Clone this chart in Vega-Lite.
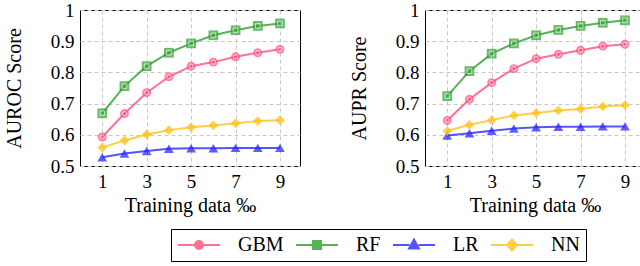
{
  "$schema": "https://vega.github.io/schema/vega-lite/v6.json",
  "padding": {"left": 3, "top": 0, "right": 2, "bottom": 0},
  "datasets": {
    "d": [
      {"metric": "AUROC", "model": "GBM", "x": 1, "value": 0.593},
      {"metric": "AUROC", "model": "GBM", "x": 2, "value": 0.668},
      {"metric": "AUROC", "model": "GBM", "x": 3, "value": 0.735},
      {"metric": "AUROC", "model": "GBM", "x": 4, "value": 0.786},
      {"metric": "AUROC", "model": "GBM", "x": 5, "value": 0.820},
      {"metric": "AUROC", "model": "GBM", "x": 6, "value": 0.833},
      {"metric": "AUROC", "model": "GBM", "x": 7, "value": 0.850},
      {"metric": "AUROC", "model": "GBM", "x": 8, "value": 0.863},
      {"metric": "AUROC", "model": "GBM", "x": 9, "value": 0.874},
      {"metric": "AUROC", "model": "RF", "x": 1, "value": 0.669},
      {"metric": "AUROC", "model": "RF", "x": 2, "value": 0.756},
      {"metric": "AUROC", "model": "RF", "x": 3, "value": 0.820},
      {"metric": "AUROC", "model": "RF", "x": 4, "value": 0.863},
      {"metric": "AUROC", "model": "RF", "x": 5, "value": 0.893},
      {"metric": "AUROC", "model": "RF", "x": 6, "value": 0.919},
      {"metric": "AUROC", "model": "RF", "x": 7, "value": 0.935},
      {"metric": "AUROC", "model": "RF", "x": 8, "value": 0.949},
      {"metric": "AUROC", "model": "RF", "x": 9, "value": 0.957},
      {"metric": "AUROC", "model": "LR", "x": 1, "value": 0.528},
      {"metric": "AUROC", "model": "LR", "x": 2, "value": 0.540},
      {"metric": "AUROC", "model": "LR", "x": 3, "value": 0.548},
      {"metric": "AUROC", "model": "LR", "x": 4, "value": 0.555},
      {"metric": "AUROC", "model": "LR", "x": 5, "value": 0.557},
      {"metric": "AUROC", "model": "LR", "x": 6, "value": 0.557},
      {"metric": "AUROC", "model": "LR", "x": 7, "value": 0.558},
      {"metric": "AUROC", "model": "LR", "x": 8, "value": 0.558},
      {"metric": "AUROC", "model": "LR", "x": 9, "value": 0.558},
      {"metric": "AUROC", "model": "NN", "x": 1, "value": 0.559},
      {"metric": "AUROC", "model": "NN", "x": 2, "value": 0.582},
      {"metric": "AUROC", "model": "NN", "x": 3, "value": 0.601},
      {"metric": "AUROC", "model": "NN", "x": 4, "value": 0.615},
      {"metric": "AUROC", "model": "NN", "x": 5, "value": 0.624},
      {"metric": "AUROC", "model": "NN", "x": 6, "value": 0.630},
      {"metric": "AUROC", "model": "NN", "x": 7, "value": 0.637},
      {"metric": "AUROC", "model": "NN", "x": 8, "value": 0.644},
      {"metric": "AUROC", "model": "NN", "x": 9, "value": 0.647},
      {"metric": "AUPR", "model": "GBM", "x": 1, "value": 0.646},
      {"metric": "AUPR", "model": "GBM", "x": 2, "value": 0.714},
      {"metric": "AUPR", "model": "GBM", "x": 3, "value": 0.767},
      {"metric": "AUPR", "model": "GBM", "x": 4, "value": 0.812},
      {"metric": "AUPR", "model": "GBM", "x": 5, "value": 0.844},
      {"metric": "AUPR", "model": "GBM", "x": 6, "value": 0.858},
      {"metric": "AUPR", "model": "GBM", "x": 7, "value": 0.871},
      {"metric": "AUPR", "model": "GBM", "x": 8, "value": 0.884},
      {"metric": "AUPR", "model": "GBM", "x": 9, "value": 0.890},
      {"metric": "AUPR", "model": "RF", "x": 1, "value": 0.724},
      {"metric": "AUPR", "model": "RF", "x": 2, "value": 0.804},
      {"metric": "AUPR", "model": "RF", "x": 3, "value": 0.860},
      {"metric": "AUPR", "model": "RF", "x": 4, "value": 0.893},
      {"metric": "AUPR", "model": "RF", "x": 5, "value": 0.919},
      {"metric": "AUPR", "model": "RF", "x": 6, "value": 0.936},
      {"metric": "AUPR", "model": "RF", "x": 7, "value": 0.949},
      {"metric": "AUPR", "model": "RF", "x": 8, "value": 0.959},
      {"metric": "AUPR", "model": "RF", "x": 9, "value": 0.967},
      {"metric": "AUPR", "model": "LR", "x": 1, "value": 0.598},
      {"metric": "AUPR", "model": "LR", "x": 2, "value": 0.605},
      {"metric": "AUPR", "model": "LR", "x": 3, "value": 0.613},
      {"metric": "AUPR", "model": "LR", "x": 4, "value": 0.620},
      {"metric": "AUPR", "model": "LR", "x": 5, "value": 0.624},
      {"metric": "AUPR", "model": "LR", "x": 6, "value": 0.626},
      {"metric": "AUPR", "model": "LR", "x": 7, "value": 0.626},
      {"metric": "AUPR", "model": "LR", "x": 8, "value": 0.627},
      {"metric": "AUPR", "model": "LR", "x": 9, "value": 0.627},
      {"metric": "AUPR", "model": "NN", "x": 1, "value": 0.612},
      {"metric": "AUPR", "model": "NN", "x": 2, "value": 0.632},
      {"metric": "AUPR", "model": "NN", "x": 3, "value": 0.647},
      {"metric": "AUPR", "model": "NN", "x": 4, "value": 0.662},
      {"metric": "AUPR", "model": "NN", "x": 5, "value": 0.670},
      {"metric": "AUPR", "model": "NN", "x": 6, "value": 0.678},
      {"metric": "AUPR", "model": "NN", "x": 7, "value": 0.683},
      {"metric": "AUPR", "model": "NN", "x": 8, "value": 0.691},
      {"metric": "AUPR", "model": "NN", "x": 9, "value": 0.695}
    ]
  },
  "spacing": 47,
  "hconcat": [
    {
      "width": 220,
      "height": 156,
      "data": {"name": "d"},
      "transform": [{"filter": "datum.metric === 'AUROC'"}],
      "encoding": {
        "x": {"field": "x", "type": "quantitative", "scale": {"domain": [0, 9.9], "nice": false, "zero": false}, "axis": {"values": [1, 3, 5, 7, 9], "title": "Training data ‰"}},
        "y": {"field": "value", "type": "quantitative", "scale": {"domain": [0.5, 1], "nice": false, "zero": false}, "axis": {"values": [0.5, 0.6, 0.7, 0.8, 0.9, 1], "format": "~g", "title": "AUROC Score"}},
        "color": {"field": "model", "type": "nominal", "scale": {"domain": ["GBM", "RF", "LR", "NN"], "range": ["#ff4d79", "#2e9e2e", "#2929ff", "#ffc21a"]}, "legend": {"title": null}}
      },
      "layer": [
        {"mark": {"type": "line", "strokeWidth": 2, "opacity": 0.8}},
        {"transform": [{"filter": "datum.model === 'GBM'"}], "mark": {"type": "point", "shape": "circle", "filled": true, "size": 80, "opacity": 0.7, "strokeWidth": 1}},
        {"transform": [{"filter": "datum.model === 'RF'"}], "mark": {"type": "point", "shape": "square", "filled": true, "size": 95, "opacity": 0.7, "strokeWidth": 1}},
        {"transform": [{"filter": "datum.model === 'LR'"}], "mark": {"type": "point", "shape": "triangle-up", "filled": true, "size": 95, "opacity": 0.75, "strokeWidth": 1}},
        {"transform": [{"filter": "datum.model === 'NN'"}], "mark": {"type": "point", "shape": "diamond", "filled": true, "size": 95, "opacity": 0.75, "strokeWidth": 1}},
        {"transform": [{"filter": "datum.model === 'GBM'"}], "mark": {"type": "point", "shape": "circle", "filled": false, "size": 20, "opacity": 0.6, "strokeWidth": 1}, "encoding": {"color": {"value": "#ffffff"}}},
        {"transform": [{"filter": "datum.model === 'RF'"}], "mark": {"type": "point", "shape": "square", "filled": false, "size": 22, "opacity": 0.6, "strokeWidth": 1}, "encoding": {"color": {"value": "#ffffff"}}},
        {
          "transform": [{"filter": "datum.x < 0"}],
          "mark": {"type": "point", "filled": false, "opacity": 0.8, "strokeWidth": 2},
          "encoding": {
            "shape": {"field": "model", "type": "nominal", "scale": {"domain": ["GBM", "RF", "LR", "NN"], "range": [
              "M-2.33,0H-0.45M0.45,0H2.33M-0.45,0A0.45,0.45,0,1,1,0.45,0A0.45,0.45,0,1,1,-0.45,0ZM-0.25,0A0.25,0.25,0,1,1,0.25,0A0.25,0.25,0,1,1,-0.25,0ZM-0.06,0A0.06,0.06,0,1,1,0.06,0A0.06,0.06,0,1,1,-0.06,0Z",
              "M-2.33,0H-0.45M0.45,0H2.33M-0.45,-0.45H0.45V0.45H-0.45ZM-0.24,-0.24H0.24V0.24H-0.24ZM-0.05,-0.05H0.05V0.05H-0.05Z",
              "M-2.33,0H-0.5M0.5,0H2.33M0,-0.6L0.55,0.4H-0.55ZM0,-0.3L0.28,0.22H-0.28ZM0,-0.05L0.05,0.05H-0.05Z",
              "M-2.33,0H-0.55M0.55,0H2.33M0,-0.6L0.55,0L0,0.6L-0.55,0ZM0,-0.32L0.29,0L0,0.32L-0.29,0ZM0,-0.06L0.06,0L0,0.06L-0.06,0Z"
            ]}, "legend": null}
          }
        }
      ]
    },
    {
      "width": 220,
      "height": 156,
      "data": {"name": "d"},
      "transform": [{"filter": "datum.metric === 'AUPR'"}],
      "encoding": {
        "x": {"field": "x", "type": "quantitative", "scale": {"domain": [0, 9.9], "nice": false, "zero": false}, "axis": {"values": [1, 3, 5, 7, 9], "title": "Training data ‰"}},
        "y": {"field": "value", "type": "quantitative", "scale": {"domain": [0.5, 1], "nice": false, "zero": false}, "axis": {"values": [0.5, 0.6, 0.7, 0.8, 0.9, 1], "format": "~g", "title": "AUPR Score"}},
        "color": {"field": "model", "type": "nominal", "scale": {"domain": ["GBM", "RF", "LR", "NN"], "range": ["#ff4d79", "#2e9e2e", "#2929ff", "#ffc21a"]}, "legend": {"title": null}}
      },
      "layer": [
        {"mark": {"type": "line", "strokeWidth": 2, "opacity": 0.8}},
        {"transform": [{"filter": "datum.model === 'GBM'"}], "mark": {"type": "point", "shape": "circle", "filled": true, "size": 80, "opacity": 0.7, "strokeWidth": 1}},
        {"transform": [{"filter": "datum.model === 'RF'"}], "mark": {"type": "point", "shape": "square", "filled": true, "size": 95, "opacity": 0.7, "strokeWidth": 1}},
        {"transform": [{"filter": "datum.model === 'LR'"}], "mark": {"type": "point", "shape": "triangle-up", "filled": true, "size": 95, "opacity": 0.75, "strokeWidth": 1}},
        {"transform": [{"filter": "datum.model === 'NN'"}], "mark": {"type": "point", "shape": "diamond", "filled": true, "size": 95, "opacity": 0.75, "strokeWidth": 1}},
        {"transform": [{"filter": "datum.model === 'GBM'"}], "mark": {"type": "point", "shape": "circle", "filled": false, "size": 20, "opacity": 0.6, "strokeWidth": 1}, "encoding": {"color": {"value": "#ffffff"}}},
        {"transform": [{"filter": "datum.model === 'RF'"}], "mark": {"type": "point", "shape": "square", "filled": false, "size": 22, "opacity": 0.6, "strokeWidth": 1}, "encoding": {"color": {"value": "#ffffff"}}}
      ]
    }
  ],
  "config": {
    "font": "Times New Roman",
    "view": {"stroke": "#000000", "strokeWidth": 1},
    "axis": {
      "labelFont": "Times New Roman",
      "labelFontSize": 19,
      "labelColor": "#000000",
      "titleFont": "Times New Roman",
      "titleFontSize": 20,
      "titleFontWeight": "normal",
      "titleColor": "#000000",
      "grid": true,
      "gridDash": [4, 3],
      "gridColor": "#c8c8c8",
      "gridWidth": 1,
      "domain": false,
      "ticks": false
    },
    "axisX": {"labelPadding": 6, "titlePadding": 4},
    "axisY": {"labelPadding": 6, "titlePadding": 26},
    "legend": {
      "orient": "none",
      "legendX": 91,
      "legendY": 219,
      "direction": "horizontal",
      "strokeColor": "#000000",
      "padding": 6,
      "labelFont": "Times New Roman",
      "labelFontSize": 20,
      "labelColor": "#000000",
      "symbolSize": 324,
      "symbolOffset": 12,
      "labelOffset": 29,
      "columnPadding": 8,
      "symbolStrokeWidth": 2,
      "symbolOpacity": 0.8
    }
  }
}
